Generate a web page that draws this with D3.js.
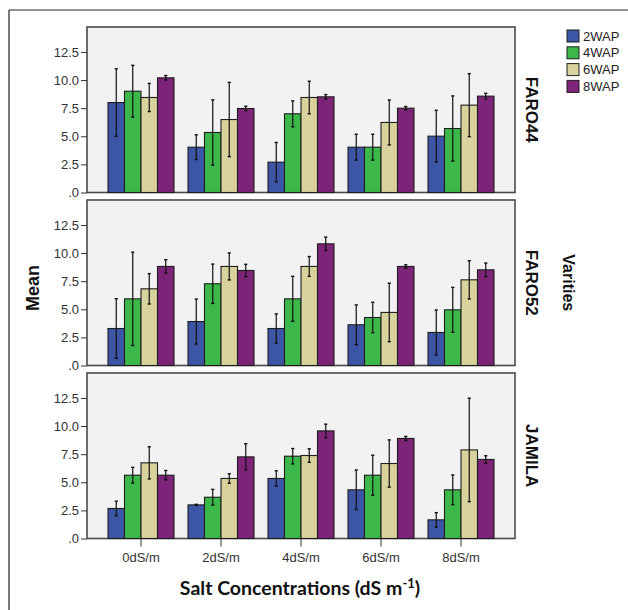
<!DOCTYPE html>
<html><head><meta charset="utf-8">
<script src="https://cdn.jsdelivr.net/npm/d3@7"></script>
<style>
html,body{margin:0;padding:0;background:#fff;}
svg{display:block;}
</style></head>
<body>
<script>
const categories = ["0dS/m","2dS/m","4dS/m","6dS/m","8dS/m"];
const seriesNames = ["2WAP","4WAP","6WAP","8WAP"];
const varieties = ["FARO44","FARO52","JAMILA"];
const yTicks = [0, 2.5, 5, 7.5, 10, 12.5];
const colors = ["#3c55a5","#3cb84a","#d8d29c","#7d2479"];

// means per variety: rows = categories, columns = series
const faro44Means = [[8.0,9.01,8.45,10.2],[4.03,5.34,6.49,7.47],[2.7,7.0,8.45,8.51],[4.03,4.03,6.23,7.5],[5.01,5.69,7.77,8.57]];
const faro44Err   = [[3.0,2.3,1.25,0.2],[1.1,2.9,3.3,0.2],[1.75,1.15,1.45,0.2],[1.15,1.15,2.0,0.15],[2.3,2.9,2.8,0.25]];
const faro52Means = [[3.29,5.93,6.82,8.81],[3.91,7.27,8.81,8.45],[3.29,5.93,8.81,10.82],[3.62,4.27,4.72,8.81],[2.94,4.95,7.62,8.51]];
const faro52Err   = [[2.65,4.15,1.35,0.6],[2.0,1.75,1.2,0.55],[1.3,2.0,0.88,0.6],[1.77,1.35,2.6,0.15],[2.0,2.0,1.7,0.6]];
const jamilaMeans = [[2.67,5.63,6.73,5.63],[2.99,3.67,5.34,7.26],[5.34,7.32,7.38,9.57],[4.33,5.63,6.67,8.9],[1.66,4.33,7.88,7.03]];
const jamilaErr   = [[0.65,0.7,1.43,0.42],[0.05,0.7,0.42,1.17],[0.68,0.68,0.6,0.6],[1.76,1.78,2.1,0.18],[0.64,1.32,4.6,0.33]];

const meansList = [faro44Means, faro52Means, jamilaMeans];
const errList = [faro44Err, faro52Err, jamilaErr];

const W = 628, H = 610;
const svg = d3.select("body").append("svg").attr("width", W).attr("height", H);

// outer frame (top + left visible)
svg.append("line").attr("x1",9).attr("x2",W).attr("y1",10).attr("y2",10).attr("stroke","#222").attr("stroke-width",1.2);
svg.append("line").attr("x1",9).attr("x2",9).attr("y1",10).attr("y2",H).attr("stroke","#222").attr("stroke-width",1.2);

const panelLeft = 87, panelRight = 515;
const panelTops = [27, 200, 373];
const panelH = 165.5;

const x0 = d3.scaleBand().domain(categories).range([panelLeft, panelRight]).paddingInner(0.175).paddingOuter(0.2625);
const x1 = d3.scaleBand().domain(seriesNames).range([0, x0.bandwidth()]).padding(0);

const tickFont = "'Liberation Sans', Arial, sans-serif";

varieties.forEach((v, vi) => {
  const top = panelTops[vi];
  const y = d3.scaleLinear().domain([0, 14.72]).range([top + panelH, top]);
  const g = svg.append("g");
  g.append("rect").attr("x", panelLeft).attr("y", top).attr("width", panelRight - panelLeft).attr("height", panelH)
    .attr("fill", "#f2f2f2").attr("stroke", "#4a4a4a").attr("stroke-width", 1.6);

  const ax = g.append("g").attr("transform", `translate(${panelLeft},0)`)
    .call(d3.axisLeft(y).tickValues(yTicks).tickSize(6).tickPadding(2)
      .tickFormat(d => d === 0 ? ".0" : d3.format(".1f")(d)));
  ax.select(".domain").remove();
  ax.selectAll("line").attr("stroke", "#333");
  ax.selectAll("text").attr("font-family", tickFont).attr("font-size", 13).attr("fill", "#333");

  const means = meansList[vi], errs = errList[vi];
  categories.forEach((c, ci) => {
    const cg = g.append("g").attr("transform", `translate(${x0(c)},0)`);
    seriesNames.forEach((s, si) => {
      const m = means[ci][si], e = errs[ci][si];
      cg.append("rect").attr("x", x1(s)).attr("y", y(m)).attr("width", x1.bandwidth()).attr("height", y(0) - y(m))
        .attr("fill", colors[si]).attr("stroke", "#1e1e1e").attr("stroke-width", 1.1);
      const cx = x1(s) + x1.bandwidth() / 2;
      cg.append("line").attr("x1", cx).attr("x2", cx).attr("y1", y(m + e)).attr("y2", y(Math.max(0, m - e)))
        .attr("stroke", "#111").attr("stroke-width", 1.2);
      [m + e, Math.max(0, m - e)].forEach(val => {
        cg.append("line").attr("x1", cx - 1.6).attr("x2", cx + 1.6).attr("y1", y(val)).attr("y2", y(val))
          .attr("stroke", "#111").attr("stroke-width", 1.4);
      });
    });
  });

  // facet label
  svg.append("text").attr("transform", `translate(531,${top + panelH / 2}) rotate(90)`)
    .attr("text-anchor", "middle").attr("dominant-baseline", "central")
    .attr("font-family", "'Liberation Sans', Arial, sans-serif").attr("font-weight", "bold").attr("font-size", 17)
    .attr("fill", "#111").text(v);

  if (vi === 2) {
    const xa = svg.append("g").attr("transform", `translate(0,${top + panelH})`)
      .call(d3.axisBottom(x0).tickSize(8).tickPadding(6));
    xa.select(".domain").remove();
    xa.selectAll("line").attr("stroke", "#333");
    xa.selectAll("text").attr("font-family", tickFont).attr("font-size", 13).attr("fill", "#333");
  }
});

// Varities label
svg.append("text").attr("transform", `translate(568,${panelTops[1] + panelH / 2}) rotate(90)`)
  .attr("text-anchor", "middle").attr("dominant-baseline", "central")
  .attr("font-family", "'Liberation Sans', Arial, sans-serif").attr("font-weight", "bold").attr("font-size", 16)
  .attr("fill", "#111").text("Varities");

// Mean label
svg.append("text").attr("transform", `translate(33,288) rotate(-90)`)
  .attr("text-anchor", "middle").attr("dominant-baseline", "central")
  .attr("font-family", "'Liberation Sans', Arial, sans-serif").attr("font-weight", "bold").attr("font-size", 18)
  .attr("fill", "#111").text("Mean");

// X axis title
const xt = svg.append("text").attr("x", 300).attr("y", 595).attr("text-anchor", "middle")
  .attr("font-family", "Lato, 'Open Sans', sans-serif").attr("font-weight", "bold").attr("font-size", 19.5).attr("fill", "#111");
xt.append("tspan").text("Salt Concentrations (dS m");
xt.append("tspan").attr("dy", -7).attr("font-size", 13).text("-1");
xt.append("tspan").attr("dy", 7).text(")");

// Legend
const lg = svg.append("g").attr("transform", "translate(567,30)");
seriesNames.forEach((s, i) => {
  const row = lg.append("g").attr("transform", `translate(0,${i * 16.8})`);
  row.append("rect").attr("x", 0).attr("y", 0).attr("width", 12).attr("height", 12)
    .attr("fill", colors[i]).attr("stroke", "#1e1e1e").attr("stroke-width", 1);
  row.append("text").attr("x", 16).attr("y", 6).attr("dominant-baseline", "central")
    .attr("font-family", tickFont).attr("font-size", 13).attr("fill", "#222").text(s);
});
</script>
</body></html>
